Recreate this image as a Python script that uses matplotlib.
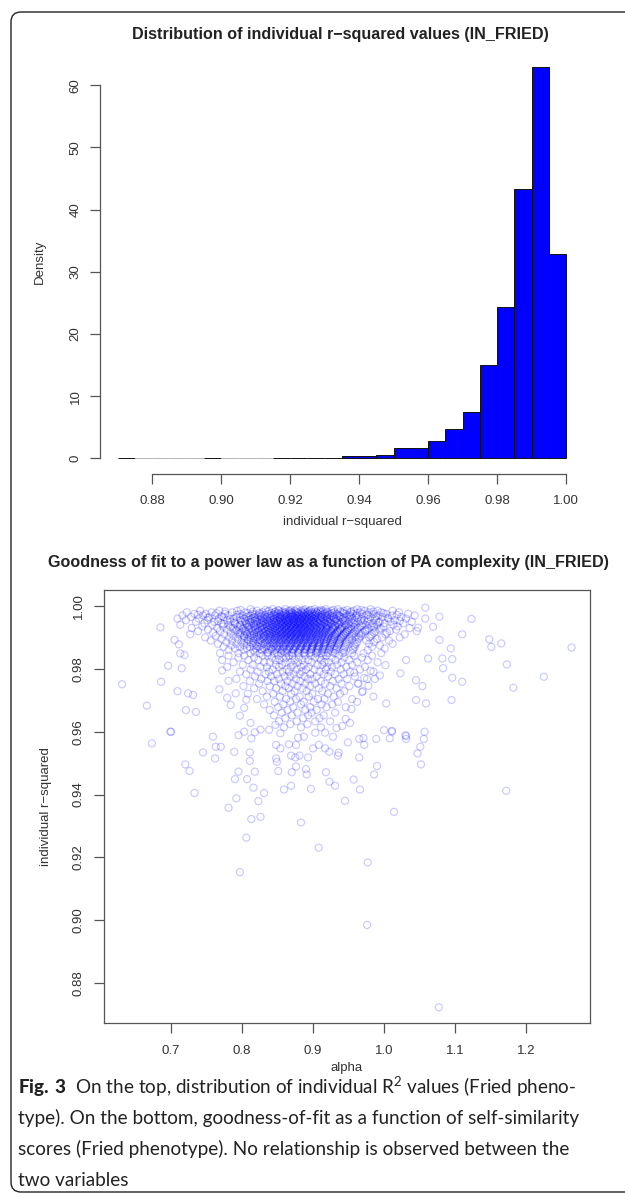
import matplotlib
matplotlib.use("Agg")
import matplotlib.pyplot as plt
from matplotlib.patches import FancyBboxPatch

plt.rcParams['font.family'] = ['Liberation Sans', 'DejaVu Sans']
plt.rcParams['mathtext.fontset'] = 'custom'
plt.rcParams['mathtext.rm'] = 'Lato'
plt.rcParams['mathtext.bf'] = 'Lato:black'

# ---------------- histogram data ----------------
bin_lefts = [0.870, 0.875, 0.880, 0.885, 0.890, 0.895, 0.900, 0.905, 0.910, 0.915,
             0.920, 0.925, 0.930, 0.935, 0.940, 0.945, 0.950, 0.955, 0.960, 0.965,
             0.970, 0.975, 0.980, 0.985, 0.990, 0.995]
density = [0.12, 0.0, 0.0, 0.0, 0.0, 0.12, 0.0, 0.0, 0.0, 0.06,
           0.06, 0.06, 0.12, 0.35, 0.4, 0.6, 1.7, 1.6, 2.8, 4.7,
           7.4, 15.0, 24.4, 43.3, 63.0, 32.9]
hist_xticks = [0.88, 0.90, 0.92, 0.94, 0.96, 0.98, 1.00]
hist_yticks = [0, 10, 20, 30, 40, 50, 60]

# ---------------- scatter data ----------------
# dense cluster, row by row: (r-squared, [alpha values])
cluster_rows = [
    (0.9990, [0.812, 0.843, 0.861, 0.877, 0.889, 0.902, 0.918, 0.935, 0.962, 0.981]),
    (0.99875, [0.798, 0.833, 0.851, 0.869, 0.886, 0.897, 0.911, 0.929, 0.948, 0.968]),
    (0.9985, [0.741, 0.768, 0.793, 0.821, 0.838, 0.852, 0.866, 0.874, 0.883, 0.895, 0.907, 0.914, 0.926, 0.943, 0.957, 0.973, 0.991, 1.012]),
    (0.99825, [0.776, 0.815, 0.836, 0.847, 0.858, 0.867, 0.876, 0.888, 0.893, 0.903, 0.910, 0.919, 0.938, 0.954, 0.985]),
    (0.9980, [0.722, 0.757, 0.786, 0.804, 0.829, 0.846, 0.855, 0.861, 0.870, 0.879, 0.884, 0.892, 0.899, 0.905, 0.913, 0.921, 0.930, 0.941, 0.952, 0.966, 0.979, 0.996, 1.021]),
    (0.99775, [0.764, 0.808, 0.824, 0.841, 0.850, 0.859, 0.866, 0.871, 0.878, 0.886, 0.891, 0.898, 0.906, 0.917, 0.927, 0.943, 0.962, 0.999]),
    (0.9975, [0.733, 0.749, 0.776, 0.797, 0.815, 0.826, 0.837, 0.848, 0.853, 0.862, 0.868, 0.873, 0.881, 0.887, 0.894, 0.901, 0.908, 0.916, 0.924, 0.933, 0.945, 0.956, 0.969, 0.985, 1.003, 1.034]),
    (0.99725, [0.738, 0.793, 0.819, 0.833, 0.845, 0.854, 0.861, 0.869, 0.875, 0.880, 0.887, 0.893, 0.899, 0.904, 0.913, 0.922, 0.934, 0.951, 0.977, 1.018]),
    (0.9970, [0.716, 0.745, 0.762, 0.781, 0.801, 0.812, 0.823, 0.831, 0.842, 0.849, 0.857, 0.864, 0.871, 0.877, 0.883, 0.889, 0.896, 0.903, 0.911, 0.919, 0.928, 0.937, 0.948, 0.961, 0.975, 0.992, 1.011, 1.043]),
    (0.99675, [0.771, 0.809, 0.826, 0.839, 0.847, 0.855, 0.860, 0.867, 0.872, 0.877, 0.884, 0.890, 0.895, 0.902, 0.909, 0.917, 0.926, 0.937, 0.953, 0.989]),
    (0.9965, [0.728, 0.754, 0.774, 0.792, 0.806, 0.818, 0.827, 0.835, 0.844, 0.851, 0.856, 0.863, 0.869, 0.874, 0.879, 0.885, 0.891, 0.898, 0.905, 0.912, 0.920, 0.929, 0.939, 0.951, 0.964, 0.981, 0.998, 1.024]),
    (0.99625, [0.752, 0.797, 0.816, 0.829, 0.841, 0.849, 0.854, 0.861, 0.868, 0.874, 0.880, 0.884, 0.891, 0.897, 0.903, 0.911, 0.919, 0.929, 0.944, 0.962, 1.005]),
    (0.9960, [0.709, 0.739, 0.767, 0.788, 0.803, 0.814, 0.822, 0.832, 0.839, 0.846, 0.853, 0.859, 0.866, 0.872, 0.878, 0.882, 0.888, 0.894, 0.901, 0.907, 0.915, 0.923, 0.932, 0.942, 0.955, 0.968, 0.987, 1.006, 1.031, 1.058]),
    (0.99575, [0.783, 0.812, 0.825, 0.834, 0.845, 0.853, 0.860, 0.865, 0.871, 0.877, 0.883, 0.889, 0.894, 0.900, 0.908, 0.915, 0.924, 0.933, 0.950, 0.978]),
    (0.9955, [0.721, 0.751, 0.779, 0.798, 0.809, 0.819, 0.828, 0.836, 0.843, 0.850, 0.857, 0.862, 0.867, 0.873, 0.880, 0.886, 0.892, 0.897, 0.904, 0.910, 0.918, 0.926, 0.935, 0.946, 0.958, 0.972, 0.989, 1.015]),
    (0.99525, [0.766, 0.804, 0.818, 0.830, 0.840, 0.848, 0.855, 0.862, 0.866, 0.873, 0.879, 0.885, 0.891, 0.898, 0.904, 0.911, 0.920, 0.931, 0.944, 0.967, 1.022]),
    (0.9950, [0.735, 0.761, 0.784, 0.800, 0.811, 0.821, 0.830, 0.838, 0.845, 0.852, 0.858, 0.864, 0.870, 0.876, 0.881, 0.887, 0.893, 0.900, 0.906, 0.913, 0.921, 0.930, 0.940, 0.951, 0.963, 0.977, 0.994, 1.009, 1.039]),
    (0.99475, [0.789, 0.813, 0.827, 0.836, 0.846, 0.853, 0.859, 0.865, 0.872, 0.878, 0.882, 0.889, 0.895, 0.901, 0.907, 0.916, 0.923, 0.938, 0.955, 0.992]),
    (0.9945, [0.747, 0.771, 0.790, 0.805, 0.816, 0.825, 0.833, 0.841, 0.848, 0.855, 0.861, 0.868, 0.874, 0.879, 0.884, 0.890, 0.896, 0.902, 0.909, 0.917, 0.925, 0.934, 0.944, 0.957, 0.970, 0.984, 1.001, 1.027]),
    (0.99425, [0.774, 0.806, 0.822, 0.833, 0.842, 0.850, 0.857, 0.864, 0.870, 0.876, 0.882, 0.887, 0.893, 0.900, 0.908, 0.915, 0.925, 0.937, 0.950, 0.979]),
    (0.9940, [0.713, 0.758, 0.781, 0.797, 0.810, 0.820, 0.829, 0.837, 0.844, 0.851, 0.857, 0.863, 0.869, 0.875, 0.882, 0.888, 0.895, 0.903, 0.911, 0.919, 0.927, 0.936, 0.947, 0.960, 0.974, 0.990, 1.013]),
    (0.99375, [0.798, 0.817, 0.829, 0.839, 0.847, 0.854, 0.861, 0.867, 0.873, 0.879, 0.885, 0.891, 0.897, 0.904, 0.912, 0.920, 0.931, 0.945, 0.968]),
    (0.9935, [0.744, 0.773, 0.794, 0.808, 0.818, 0.826, 0.835, 0.842, 0.849, 0.856, 0.862, 0.868, 0.873, 0.880, 0.886, 0.893, 0.899, 0.906, 0.914, 0.922, 0.931, 0.941, 0.953, 0.966, 0.982, 0.999, 1.019]),
    (0.99325, [0.784, 0.809, 0.825, 0.836, 0.844, 0.852, 0.859, 0.865, 0.871, 0.877, 0.883, 0.889, 0.896, 0.902, 0.910, 0.918, 0.927, 0.940, 0.958, 0.986]),
    (0.9930, [0.729, 0.765, 0.787, 0.802, 0.813, 0.823, 0.831, 0.839, 0.846, 0.853, 0.860, 0.866, 0.872, 0.878, 0.884, 0.891, 0.898, 0.905, 0.912, 0.920, 0.929, 0.939, 0.950, 0.963, 0.978, 0.995, 1.036]),
    (0.99275, [0.801, 0.819, 0.831, 0.841, 0.849, 0.856, 0.862, 0.869, 0.875, 0.881, 0.887, 0.894, 0.901, 0.909, 0.916, 0.926, 0.938, 0.954]),
    (0.9925, [0.752, 0.779, 0.796, 0.809, 0.819, 0.828, 0.836, 0.843, 0.850, 0.857, 0.863, 0.869, 0.876, 0.883, 0.889, 0.896, 0.904, 0.911, 0.919, 0.928, 0.938, 0.949, 0.962, 0.976, 0.993, 1.017]),
    (0.99225, [0.792, 0.813, 0.827, 0.838, 0.846, 0.854, 0.861, 0.867, 0.873, 0.879, 0.886, 0.892, 0.899, 0.906, 0.914, 0.924, 0.935, 0.951, 0.974]),
    (0.9920, [0.738, 0.769, 0.790, 0.804, 0.815, 0.824, 0.833, 0.840, 0.847, 0.854, 0.861, 0.867, 0.874, 0.881, 0.887, 0.894, 0.901, 0.909, 0.917, 0.926, 0.936, 0.947, 0.959, 0.973, 0.988, 1.008, 1.046]),
    (0.99175, [0.806, 0.823, 0.834, 0.843, 0.851, 0.858, 0.865, 0.871, 0.877, 0.884, 0.890, 0.897, 0.904, 0.913, 0.922, 0.934, 0.948]),
    (0.9915, [0.759, 0.784, 0.799, 0.811, 0.821, 0.830, 0.838, 0.845, 0.852, 0.859, 0.865, 0.872, 0.879, 0.886, 0.893, 0.900, 0.908, 0.916, 0.925, 0.934, 0.945, 0.957, 0.970, 0.986, 1.004]),
    (0.99125, [0.797, 0.817, 0.830, 0.840, 0.848, 0.856, 0.863, 0.869, 0.876, 0.882, 0.888, 0.895, 0.903, 0.911, 0.920, 0.931, 0.946, 0.965]),
    (0.9910, [0.727, 0.775, 0.795, 0.807, 0.817, 0.827, 0.835, 0.843, 0.850, 0.857, 0.864, 0.870, 0.877, 0.884, 0.891, 0.898, 0.906, 0.914, 0.923, 0.932, 0.943, 0.955, 0.968, 0.983, 1.002, 1.029]),
    (0.99075, [0.811, 0.826, 0.837, 0.846, 0.854, 0.861, 0.868, 0.874, 0.880, 0.887, 0.894, 0.901, 0.909, 0.918, 0.929, 0.943]),
    (0.9905, [0.763, 0.788, 0.803, 0.814, 0.824, 0.832, 0.840, 0.848, 0.855, 0.862, 0.869, 0.876, 0.883, 0.890, 0.897, 0.905, 0.913, 0.922, 0.931, 0.942, 0.954, 0.967, 0.981]),
    (0.99025, [0.803, 0.821, 0.833, 0.843, 0.851, 0.859, 0.866, 0.872, 0.879, 0.885, 0.892, 0.900, 0.908, 0.917, 0.927, 0.941, 0.960]),
    (0.9900, [0.748, 0.782, 0.800, 0.812, 0.822, 0.831, 0.839, 0.847, 0.854, 0.861, 0.868, 0.875, 0.882, 0.889, 0.896, 0.904, 0.912, 0.921, 0.930, 0.940, 0.952, 0.965, 0.979, 0.997, 1.022]),
    (0.98975, [0.816, 0.830, 0.841, 0.849, 0.857, 0.864, 0.871, 0.878, 0.884, 0.891, 0.899, 0.907, 0.916, 0.926, 0.939]),
    (0.9895, [0.771, 0.794, 0.808, 0.819, 0.829, 0.837, 0.845, 0.853, 0.860, 0.867, 0.874, 0.881, 0.888, 0.896, 0.903, 0.911, 0.920, 0.929, 0.939, 0.951, 0.964, 0.990]),
    (0.98925, [0.809, 0.825, 0.837, 0.846, 0.855, 0.862, 0.869, 0.876, 0.883, 0.890, 0.898, 0.906, 0.915, 0.925, 0.937, 0.955]),
    (0.9890, [0.756, 0.786, 0.803, 0.816, 0.826, 0.835, 0.843, 0.851, 0.858, 0.866, 0.873, 0.880, 0.887, 0.895, 0.902, 0.910, 0.919, 0.928, 0.938, 0.950, 0.975, 1.007]),
    (0.9885, [0.778, 0.799, 0.812, 0.823, 0.833, 0.841, 0.849, 0.857, 0.865, 0.872, 0.879, 0.887, 0.894, 0.902, 0.910, 0.918, 0.927, 0.937, 0.948, 0.962, 0.986]),
    (0.98825, [0.815, 0.832, 0.844, 0.853, 0.861, 0.869, 0.876, 0.883, 0.890, 0.898, 0.906, 0.915, 0.924, 0.936]),
    (0.9880, [0.766, 0.792, 0.807, 0.819, 0.830, 0.839, 0.847, 0.855, 0.863, 0.871, 0.878, 0.886, 0.893, 0.901, 0.909, 0.917, 0.926, 0.936, 0.947, 0.960, 0.979, 1.012]),
    (0.9875, [0.785, 0.803, 0.816, 0.827, 0.836, 0.845, 0.853, 0.861, 0.869, 0.877, 0.885, 0.892, 0.900, 0.908, 0.916, 0.925, 0.935, 0.946, 0.958, 0.994]),
    (0.98725, [0.821, 0.838, 0.849, 0.858, 0.867, 0.875, 0.883, 0.891, 0.899, 0.908, 0.918, 0.930]),
    (0.9870, [0.774, 0.797, 0.811, 0.823, 0.834, 0.843, 0.851, 0.859, 0.867, 0.875, 0.883, 0.891, 0.899, 0.907, 0.915, 0.924, 0.934, 0.945, 0.959, 0.983]),
    (0.9865, [0.790, 0.807, 0.820, 0.831, 0.841, 0.849, 0.858, 0.866, 0.874, 0.882, 0.890, 0.898, 0.906, 0.914, 0.923, 0.933, 0.944, 0.957, 1.001]),
    (0.98625, [0.826, 0.842, 0.853, 0.863, 0.872, 0.881, 0.889, 0.898, 0.907, 0.917, 0.929]),
    (0.9860, [0.781, 0.802, 0.816, 0.828, 0.838, 0.847, 0.856, 0.864, 0.872, 0.880, 0.888, 0.897, 0.905, 0.913, 0.922, 0.932, 0.943, 0.956, 0.977]),
    (0.98525, [0.818, 0.836, 0.849, 0.860, 0.870, 0.879, 0.888, 0.897, 0.906, 0.916, 0.928, 0.944]),
    (0.9850, [0.769, 0.795, 0.812, 0.825, 0.836, 0.846, 0.855, 0.863, 0.871, 0.879, 0.887, 0.895, 0.904, 0.912, 0.921, 0.931, 0.942, 0.955, 0.971, 0.996]),
    (0.9842, [0.781, 0.803, 0.829, 0.836, 0.851, 0.866, 0.871, 0.889, 0.897, 0.914, 0.919, 0.937, 0.958, 0.983]),
    (0.9836, [0.795, 0.817, 0.842, 0.858, 0.862, 0.880, 0.903, 0.909, 0.926, 0.944, 0.969]),
    (0.9828, [0.772, 0.809, 0.823, 0.847, 0.853, 0.874, 0.885, 0.893, 0.911, 0.932, 0.951, 0.977]),
    (0.9821, [0.788, 0.831, 0.839, 0.861, 0.868, 0.879, 0.898, 0.916, 0.922, 0.940, 0.962, 0.991]),
    (0.9813, [0.801, 0.815, 0.848, 0.856, 0.872, 0.887, 0.906, 0.913, 0.934, 0.955]),
    (0.9806, [0.779, 0.826, 0.835, 0.852, 0.869, 0.883, 0.894, 0.920, 0.927, 0.947, 0.973]),
    (0.9798, [0.812, 0.843, 0.863, 0.877, 0.890, 0.902, 0.918, 0.939, 0.966]),
    (0.9791, [0.797, 0.822, 0.838, 0.857, 0.866, 0.884, 0.909, 0.925, 0.952, 0.985]),
    (0.9783, [0.806, 0.833, 0.849, 0.873, 0.881, 0.896, 0.915, 0.931, 0.943]),
    (0.9776, [0.818, 0.841, 0.860, 0.868, 0.888, 0.905, 0.921, 0.959]),
    (0.9768, [0.792, 0.827, 0.852, 0.876, 0.893, 0.899, 0.936, 0.948, 0.976]),
    (0.9761, [0.811, 0.836, 0.845, 0.864, 0.882, 0.911, 0.928]),
    (0.9753, [0.824, 0.855, 0.871, 0.889, 0.903, 0.917, 0.940, 0.963]),
    (0.9745, [0.802, 0.839, 0.861, 0.878, 0.896, 0.924, 0.951]),
    (0.9738, [0.817, 0.848, 0.866, 0.885, 0.908, 0.933]),
    (0.9729, [0.829, 0.857, 0.874, 0.891, 0.913, 0.944, 0.970]),
    (0.9721, [0.808, 0.844, 0.869, 0.899, 0.921, 0.938]),
    (0.9712, [0.835, 0.853, 0.881, 0.894, 0.929]),
    (0.9704, [0.821, 0.862, 0.876, 0.907, 0.916, 0.955]),
    (0.9695, [0.846, 0.868, 0.887, 0.901, 0.935]),
    (0.9687, [0.831, 0.858, 0.883, 0.912, 0.927]),
    (0.9678, [0.851, 0.872, 0.896, 0.919, 0.946]),
    (0.9669, [0.839, 0.864, 0.889, 0.905]),
    (0.9661, [0.856, 0.878, 0.898, 0.931]),
    (0.9652, [0.845, 0.870, 0.893, 0.915]),
    (0.9643, [0.861, 0.886, 0.909]),
    (0.9633, [0.852, 0.877, 0.903, 0.924]),
    (0.9624, [0.868, 0.892]),
    (0.9614, [0.859, 0.883, 0.911]),
]

# scattered individual points
alpha_sparse = [0.673, 0.699, 0.759, 0.745, 0.763, 0.770, 0.762, 0.720, 0.726, 0.733,
                0.789, 0.795, 0.803, 0.795, 0.790, 0.792, 0.781, 0.807, 0.811, 0.811,
                0.813, 0.816, 0.818, 0.813, 0.806, 0.797, 0.823, 0.826, 0.831, 0.848,
                0.849, 0.848, 0.851, 0.854, 0.854, 0.859, 0.866, 0.869, 0.870, 0.869,
                0.875, 0.876, 0.876, 0.881, 0.879, 0.887, 0.890, 0.891, 0.883, 0.893,
                0.897, 0.900, 0.903, 0.908, 0.908, 0.917, 0.917, 0.918, 0.923, 0.923,
                0.928, 0.931, 0.935, 0.936, 0.945, 0.949, 0.957, 0.965, 0.965, 0.966,
                0.972, 0.971, 0.977, 0.976, 0.986, 0.990, 0.989, 1.008, 1.011, 1.014,
                1.031, 1.031, 1.047, 1.051, 1.052, 1.056, 1.057, 1.077, 1.172,
                0.631, 0.666, 0.685, 0.686, 0.696, 0.700, 0.705, 0.709, 0.715, 0.721,
                0.724, 0.731, 0.735, 0.711, 0.713, 0.719, 1.123, 1.148, 1.151, 1.165,
                1.173, 1.182, 1.225, 1.264, 1.095, 1.110, 1.096, 1.059, 1.058, 1.078,
                1.110, 1.078, 1.094, 1.082, 1.096, 1.083, 1.069, 1.048, 1.062, 1.045,
                1.054, 1.045, 1.030, 1.011, 1.000, 1.003, 1.023, 1.031,
                0.772, 0.781, 0.768, 0.779, 0.791, 0.784, 0.803, 0.797, 0.812, 0.806,
                0.958, 0.964, 0.972, 0.969, 0.981, 0.978, 0.987, 0.994, 1.002, 0.985,
                0.962, 0.954, 0.946, 0.941, 0.952, 0.933, 0.826, 0.818, 0.838, 0.847]
r2_sparse = [0.9563, 0.9600, 0.9584, 0.9534, 0.9552, 0.9552, 0.9515, 0.9496, 0.9475, 0.9405,
             0.9536, 0.9589, 0.9600, 0.9473, 0.9449, 0.9388, 0.9358, 0.9449, 0.9534, 0.9507,
             0.9579, 0.9422, 0.9473, 0.9322, 0.9263, 0.9153, 0.9379, 0.9329, 0.9405, 0.9515,
             0.9504, 0.9558, 0.9475, 0.9547, 0.9595, 0.9416, 0.9560, 0.9428, 0.9471, 0.9524,
             0.9518, 0.9489, 0.9558, 0.9524, 0.9581, 0.9584, 0.9481, 0.9464, 0.9311, 0.9518,
             0.9418, 0.9547, 0.9597, 0.9231, 0.9558, 0.9597, 0.9547, 0.9471, 0.9536, 0.9441,
             0.9584, 0.9428, 0.9524, 0.9533, 0.9380, 0.9566, 0.9448, 0.9518, 0.9577, 0.9416,
             0.9558, 0.9580, 0.9184, 0.8985, 0.9464, 0.9491, 0.9577, 0.9579, 0.9600, 0.9345,
             0.9586, 0.9577, 0.9531, 0.9552, 0.9496, 0.9577, 0.9600, 0.8723, 0.9412,
             0.9751, 0.9683, 0.9932, 0.9759, 0.9810, 0.9600, 0.9892, 0.9729, 0.9802, 0.9669,
             0.9722, 0.9717, 0.9663, 0.9878, 0.9849, 0.9844, 0.9959, 0.9894, 0.9870, 0.9881,
             0.9814, 0.9740, 0.9775, 0.9868, 0.9701, 0.9759, 0.9772, 0.9690, 0.9995, 0.9966,
             0.9910, 0.9892, 0.9865, 0.9833, 0.9831, 0.9802, 0.9934, 0.9931, 0.9833, 0.9764,
             0.9745, 0.9701, 0.9589, 0.9603, 0.9605, 0.9690, 0.9786, 0.9828,
             0.9795, 0.9762, 0.9735, 0.9708, 0.9722, 0.9685, 0.9676, 0.9651, 0.9628, 0.9702,
             0.9788, 0.9753, 0.9771, 0.9726, 0.9794, 0.9746, 0.9768, 0.9779, 0.9812, 0.9712,
             0.9695, 0.9672, 0.9641, 0.9618, 0.9628, 0.9612, 0.9607, 0.9598, 0.9606, 0.9622]

scatter_xticks = [0.7, 0.8, 0.9, 1.0, 1.1, 1.2]
scatter_yticks = [0.88, 0.90, 0.92, 0.94, 0.96, 0.98, 1.00]

alpha_all = [a for r, row in cluster_rows for a in row] + alpha_sparse
r2_all = [r for r, row in cluster_rows for a in row] + r2_sparse

# ---------------- figure ----------------
W, H = 625, 1198
fig = plt.figure(figsize=(W / 100, H / 100), dpi=100)
fig.patch.set_facecolor('white')

def fx(px):
    return px / W

def fy(py):
    return 1 - py / H

axis_col = '#555555'
txt_col = '#333333'

# frame
frame = FancyBboxPatch((fx(11), fy(1192)), fx(700), fy(12) - fy(1192),
                       boxstyle="round,pad=0,rounding_size=0.016",
                       transform=fig.transFigure, fill=False,
                       edgecolor='#222222', linewidth=1.0, mutation_aspect=W / H)
fig.patches.append(frame)

# ---- top: histogram ----
ax1 = fig.add_axes([fx(99.6), fy(474), fx(584) - fx(99.6), fy(51) - fy(474)])
bar_edges = ['#111111' if d > 0 else '#b5b5b5' for d in density]
ax1.bar(bin_lefts, density, width=0.005, align='edge', color='#0000ff',
        edgecolor=bar_edges, linewidth=0.7)
ax1.set_xlim(0.8648, 1.0052)
ax1.set_ylim(-2.52, 65.52)
for s in ['top', 'right']:
    ax1.spines[s].set_visible(False)
ax1.spines['left'].set_bounds(0, 60)
ax1.spines['bottom'].set_bounds(0.88, 1.00)
for s in ['left', 'bottom']:
    ax1.spines[s].set_color(axis_col)
    ax1.spines[s].set_linewidth(0.9)
ax1.set_xticks(hist_xticks)
ax1.set_xticklabels([f"{t:.2f}" for t in hist_xticks])
ax1.set_yticks(hist_yticks)
ax1.set_yticklabels([str(t) for t in hist_yticks], rotation=90, va='center')
ax1.tick_params(axis='both', colors=axis_col, labelcolor=txt_col, labelsize=9.5,
                length=7, width=0.9)
ax1.tick_params(axis='x', pad=8)
ax1.tick_params(axis='y', pad=6)
fig.text(fx(340), fy(35), "Distribution of individual r\u2212squared values (IN_FRIED)",
         ha='center', va='center', fontsize=11.6, fontweight='bold', color='#222222')
fig.text(fx(342), fy(522), "individual r\u2212squared", ha='center', va='center',
         fontsize=9.5, color=txt_col)
fig.text(fx(40), fy(262), "Density", ha='center', va='center', rotation=90,
         fontsize=9.5, color=txt_col)

# ---- bottom: scatter ----
ax2 = fig.add_axes([fx(104), fy(1023), fx(590) - fx(104), fy(590) - fy(1023)])
ax2.scatter(alpha_all, r2_all, s=26, facecolors='none',
            edgecolors=(0.0, 0.0, 1.0, 0.21), linewidths=0.85)
ax2.set_xlim(0.6056, 1.29)
ax2.set_ylim(0.8673, 1.0051)
for s in ax2.spines.values():
    s.set_color(axis_col)
    s.set_linewidth(0.9)
ax2.set_xticks(scatter_xticks)
ax2.set_xticklabels([f"{t:.1f}" for t in scatter_xticks])
ax2.set_yticks(scatter_yticks)
ax2.set_yticklabels([f"{t:.2f}" for t in scatter_yticks], rotation=90, va='center')
ax2.tick_params(axis='both', colors=axis_col, labelcolor=txt_col, labelsize=9.5,
                length=7, width=0.9)
ax2.tick_params(axis='x', pad=9)
ax2.tick_params(axis='y', pad=7)
fig.text(fx(328), fy(562),
         "Goodness of fit to a power law as a function of PA complexity (IN_FRIED)",
         ha='center', va='center', fontsize=11.6, fontweight='bold', color='#222222')
fig.text(fx(347), fy(1068), "alpha", ha='center', va='center', fontsize=9.5, color=txt_col)
fig.text(fx(46), fy(807), "individual r\u2212squared", ha='center', va='center',
         rotation=90, fontsize=9.5, color=txt_col)

# ---- caption ----
cap_lines = [
    r"$\mathbf{Fig.\,3}$  On the top, distribution of individual R$^{2}$ values (Fried pheno-",
    "type). On the bottom, goodness-of-fit as a function of self-similarity",
    "scores (Fried phenotype). No relationship is observed between the",
    "two variables",
]
cap_y = [1087, 1118, 1149, 1180]
for line, yy in zip(cap_lines, cap_y):
    fig.text(fx(18), fy(yy), line, ha='left', va='center', fontsize=13.6,
             family='Lato', color='#222222')

fig.savefig("out.png", dpi=100)
